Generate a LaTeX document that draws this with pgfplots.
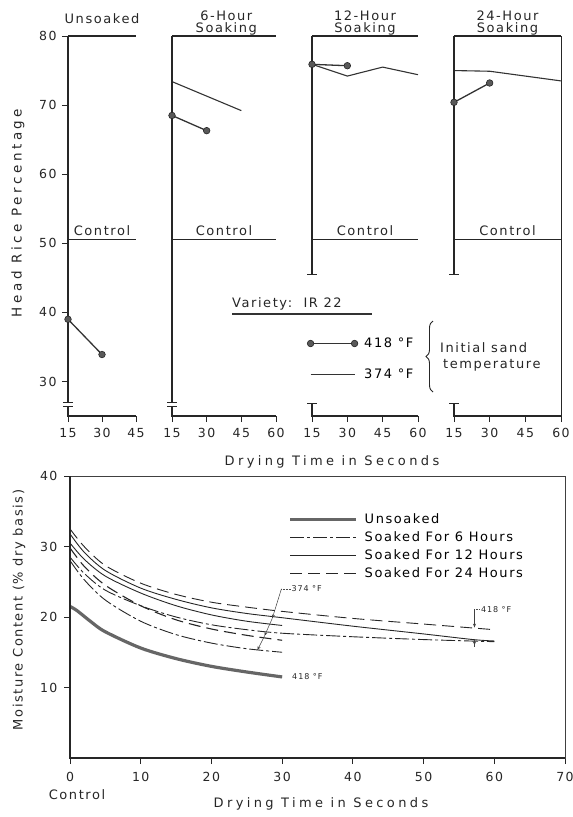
\documentclass[border=0pt]{standalone}
\usepackage{fontspec}
\setmainfont{DejaVu Sans}[LetterSpace=12]
\newfontfamily\widefont{DejaVu Sans}[LetterSpace=26]
\usepackage{pgfplots}
\pgfplotsset{compat=1.18}
\usetikzlibrary{arrows.meta,decorations.pathreplacing}

\pgfplotsset{
  panel/.style={
    scale only axis, anchor=south west, clip=false,
    ymin=25, ymax=80, height=380pt,
    axis line style={draw=none},
    xtick pos=bottom, ytick pos=left, tick align=outside,
    major tick length=6pt,
    tick style={black!85, line width=0.8pt},
    ytick=\empty,
    /pgf/number format/assume math mode=true,
    ticklabel style={font=\fontsize{12.5}{14}\selectfont, text=black!85},
    xticklabel style={yshift=-3pt},
    yticklabel style={xshift=-2pt},
  },
  hi/.style={black!80, line width=1.3pt, mark=*, mark size=3.3pt,
    mark options={fill=black!65, draw=black!85, line width=0.6pt}},
  lo/.style={black!80, line width=1.1pt},
}
\tikzset{
  frame/.style={black!85, line width=1.6pt},
  ctrl/.style={black!85, line width=1.2pt},
  txt/.style={font=\fontsize{13}{15}\selectfont, text=black!85, inner sep=0pt},
}

\begin{document}
\begin{tikzpicture}
\path[use as bounding box] (0pt,0pt) rectangle (573pt,-817pt);

% Unsoaked
\begin{axis}[panel, at={(68pt,-416pt)}, width=68pt, xmin=15, xmax=45,
  xtick={15,30,45}, ytick={30,40,50,60,70,80}]
\addplot[hi] coordinates {(15,39.0) (30,33.9)};
\draw[frame] (axis cs:15,80) -- (axis cs:45,80);
\draw[ctrl] (axis cs:15,50.6) -- (axis cs:45,50.6);
\draw[frame] (axis cs:15,80) -- (axis cs:15,26.9);
\draw[frame] (axis cs:15,26.35) -- (axis cs:15,25) -- (axis cs:45,25);
\draw[black!85, line width=0.8pt] ([xshift=-5pt]axis cs:15,26.9) -- ([xshift=5pt]axis cs:15,26.9);
\draw[black!85, line width=0.8pt] ([xshift=-5pt]axis cs:15,26.35) -- ([xshift=5pt]axis cs:15,26.35);
\node[txt, anchor=base] at ([yshift=4pt]axis cs:30,50.6) {Control};
\node[txt, anchor=base] at ([yshift=13pt]axis cs:30,80) {Unsoaked};
\end{axis}

% 6-hour
\begin{axis}[panel, at={(172pt,-416pt)}, width=104pt, xmin=15, xmax=60,
  xtick={15,30,45,60},
  legend style={draw=none, fill=none, at={(1.27,0.215)}, anchor=north west,
    font=\fontsize{13}{15}\selectfont, row sep=17pt,
    nodes={inner sep=1pt, text height=9.5pt, text depth=2.5pt}},
  legend cell align=left,
  legend image code/.code={\draw[#1] plot coordinates {(0pt,0pt) (44pt,0pt)}; \path (52pt,0pt);}]
\addplot[hi] coordinates {(15,68.5) (30,66.3)};
\addlegendentry{418 °F}
\addplot[lo] coordinates {(15,73.4) (45,69.2)};
\addlegendentry{374 °F}
\draw[frame] (axis cs:15,80) -- (axis cs:60,80);
\draw[ctrl] (axis cs:15,50.6) -- (axis cs:60,50.6);
\draw[frame] (axis cs:15,80) -- (axis cs:15,26.9);
\draw[frame] (axis cs:15,26.35) -- (axis cs:15,25) -- (axis cs:60,25);
\draw[black!85, line width=0.8pt] ([xshift=-5pt]axis cs:15,26.9) -- ([xshift=5pt]axis cs:15,26.9);
\draw[black!85, line width=0.8pt] ([xshift=-5pt]axis cs:15,26.35) -- ([xshift=5pt]axis cs:15,26.35);
\node[txt, anchor=base] at ([yshift=4pt]axis cs:37.5,50.6) {Control};
\node[txt, anchor=base] at ([yshift=4pt]axis cs:38.5,80) {Soaking};
\node[txt, anchor=base] at ([yshift=16pt]axis cs:38.5,80) {6-Hour};
\end{axis}

% 12-hour
\begin{axis}[panel, at={(312pt,-416pt)}, width=106pt, xmin=15, xmax=60,
  xtick={15,30,45,60}]
\addplot[hi] coordinates {(15,75.9) (30,75.7)};
\addplot[lo] coordinates {(15,75.9) (30,74.2) (45,75.5) (60,74.4)};
\draw[frame] (axis cs:15,80) -- (axis cs:60,80);
\draw[ctrl] (axis cs:15,50.6) -- (axis cs:60,50.6);
\draw[frame] (axis cs:15,80) -- (axis cs:15,45.5);
\draw[black!85, line width=1pt] ([xshift=-5pt]axis cs:15,45.5) -- ([xshift=5pt]axis cs:15,45.5);
\draw[frame] (axis cs:15,26.8) -- (axis cs:15,25) -- (axis cs:60,25);
\draw[black!85, line width=1pt] ([xshift=-5pt]axis cs:15,26.8) -- ([xshift=5pt]axis cs:15,26.8);
\node[txt, anchor=base] at ([yshift=4pt]axis cs:37.5,50.6) {Control};
\node[txt, anchor=base] at ([yshift=4pt]axis cs:37.5,80) {Soaking};
\node[txt, anchor=base] at ([yshift=16pt]axis cs:37.5,80) {12-Hour};
\end{axis}

% 24-hour
\begin{axis}[panel, at={(454pt,-416pt)}, width=107pt, xmin=15, xmax=60,
  xtick={15,30,45,60}]
\addplot[hi] coordinates {(15,70.4) (30,73.2)};
\addplot[lo] coordinates {(15,75.0) (30,74.9) (60,73.5)};
\draw[frame] (axis cs:15,80) -- (axis cs:60,80);
\draw[ctrl] (axis cs:15,50.6) -- (axis cs:60,50.6);
\draw[frame] (axis cs:15,80) -- (axis cs:15,45.5);
\draw[black!85, line width=1pt] ([xshift=-5pt]axis cs:15,45.5) -- ([xshift=5pt]axis cs:15,45.5);
\draw[frame] (axis cs:15,26.8) -- (axis cs:15,25) -- (axis cs:60,25);
\draw[black!85, line width=1pt] ([xshift=-5pt]axis cs:15,26.8) -- ([xshift=5pt]axis cs:15,26.8);
\draw[black!85, line width=1pt] (axis cs:60,80) -- (axis cs:60,25);
\node[txt, anchor=base] at ([yshift=4pt]axis cs:37.5,50.6) {Control};
\node[txt, anchor=base] at ([yshift=4pt]axis cs:37.5,80) {Soaking};
\node[txt, anchor=base] at ([yshift=16pt]axis cs:37.5,80) {24-Hour};
\end{axis}

% moisture content
\begin{axis}[scale only axis, anchor=south west, at={(70pt,-758pt)},
  width=495pt, height=282pt, xmin=0, xmax=70, ymin=0, ymax=40,
  xtick={0,10,...,70}, ytick={10,20,30,40},
  xtick pos=bottom, ytick pos=left, tick align=outside, major tick length=6pt,
  axis line style={black!75, line width=0.7pt},
  tick style={black!85, line width=0.8pt},
  clip=false,
  /pgf/number format/assume math mode=true,
  ticklabel style={font=\fontsize{12.5}{14}\selectfont, text=black!85},
  xticklabel style={yshift=-5pt},
  yticklabel style={xshift=-3pt},
  legend style={draw=none, fill=none, at={(0.435,0.878)}, anchor=north west,
    font=\fontsize{13}{15}\selectfont, row sep=4pt,
    nodes={inner sep=1pt, text height=9.5pt, text depth=2.5pt}},
  legend cell align=left,
  legend image code/.code={\draw[#1] (0pt,0pt) -- (66pt,0pt); \path (72pt,0pt);}]
\addplot[black!60, line width=3.2pt, smooth] coordinates {
  (0,21.5) (1,20.9) (3,19.3) (5,17.9) (10,15.6) (15,14.1) (20,13.0) (25,12.2) (30,11.5)};
\addlegendentry{Unsoaked}
\addplot[black!85, line width=0.9pt, smooth, dash pattern=on 14pt off 3pt on 3pt off 3pt] coordinates {
  (0,28.5) (2,26.2) (5,23.8) (10,21.6) (15,20.0) (20,18.9) (25,18.2) (30,17.7) (40,17.2) (50,16.8) (60,16.5)};
\addlegendentry{Soaked For 6 Hours}
\addplot[black!85, line width=0.9pt, smooth] coordinates {
  (0,31.8) (2,29.2) (5,26.6) (10,24.1) (15,22.5) (20,21.3) (25,20.5) (30,19.9) (40,18.7) (50,17.6) (57,16.8) (60,16.6)};
\addlegendentry{Soaked For 12 Hours}
\addplot[black!85, line width=0.9pt, smooth, dash pattern=on 12pt off 6pt] coordinates {
  (0,32.5) (2,30.0) (5,27.3) (10,24.8) (15,23.2) (20,22.1) (25,21.4) (30,20.8) (40,19.8) (50,19.0) (60,18.2)};
\addlegendentry{Soaked For 24 Hours}
\addplot[black!85, line width=0.9pt, smooth, forget plot] coordinates {
  (0,30.5) (2,28.2) (5,25.8) (10,23.4) (15,21.6) (20,20.3) (25,19.4) (30,18.8)};
\addplot[black!85, line width=1.1pt, smooth, forget plot, dash pattern=on 12pt off 6pt] coordinates {
  (0,29.8) (2,27.2) (5,24.5) (10,21.6) (15,19.6) (20,18.3) (25,17.4) (30,16.7)};
\addplot[black!85, line width=0.9pt, smooth, forget plot, dash pattern=on 14pt off 3pt on 3pt off 3pt] coordinates {
  (0,28.0) (2,25.3) (5,22.4) (10,19.4) (15,17.5) (20,16.3) (25,15.5) (30,15.0)};
\draw[black!85, line width=2.4pt] (axis cs:0,40) -- (axis cs:0,0) -- (axis cs:70,0);
% temperature notes
\draw[black!70, densely dotted, line width=0.5pt] (axis cs:29.9,24.0) -- (axis cs:31.2,24.0);
\draw[black!75, line width=0.5pt, -{Stealth[length=4pt,width=3pt]}] (axis cs:29.9,24.0) -- (axis cs:28.6,19.8);
\draw[black!75, line width=0.5pt, -{Stealth[length=4pt,width=3pt]}] (axis cs:28.6,19.8) -- (axis cs:27.5,17.3);
\draw[black!75, line width=0.5pt, -{Stealth[length=4pt,width=3pt]}] (axis cs:27.5,17.3) -- (axis cs:26.5,15.3);
\node[txt, anchor=west, font=\fontsize{8}{9}\selectfont] at (axis cs:31.3,24.0) {374 °F};
\draw[black!70, densely dotted, line width=0.5pt] (axis cs:57.2,21.1) -- (axis cs:58.0,21.1);
\draw[black!75, line width=0.5pt, -{Stealth[length=4pt,width=3pt]}] (axis cs:57.2,21.1) -- (axis cs:57.2,18.5);
\draw[black!75, line width=0.5pt, -{Stealth[length=4pt,width=3pt]}] (axis cs:57.2,15.8) -- (axis cs:57.2,16.8);
\node[txt, anchor=west, font=\fontsize{8}{9}\selectfont] at (axis cs:58.1,21.1) {418 °F};
\node[txt, anchor=west, font=\fontsize{8}{9}\selectfont] at (axis cs:31.4,11.5) {418 °F};
\end{axis}

\begin{scope}[x=1pt, y=-1pt]
\node[txt, rotate=90, font=\widefont\fontsize{13.5}{15}\selectfont] at (18,213) {Head Rice Percentage};
\node[txt, font=\widefont\fontsize{13}{15}\selectfont] at (332,462) {Drying Time in Seconds};
\node[txt, anchor=base west] at (232,307) {Variety:\ \ IR 22};
\draw[black!80, line width=1.8pt] (232,314) -- (372,314);
\draw[black!85, line width=0.9pt, decorate, decoration={brace, amplitude=7pt}] (433,392) -- (433,321);
\node[txt, anchor=base west] at (440,352) {Initial sand};
\node[txt, anchor=base west] at (443,368) {temperature};
\node[txt, rotate=90, font=\fontsize{13}{15}\selectfont] at (19,610) {Moisture Content (\% dry basis)};
\node[txt, font=\widefont\fontsize{13}{15}\selectfont] at (321,804) {Drying Time in Seconds};
\node[txt] at (77,795) {Control};
\end{scope}
\end{tikzpicture}
\end{document}
